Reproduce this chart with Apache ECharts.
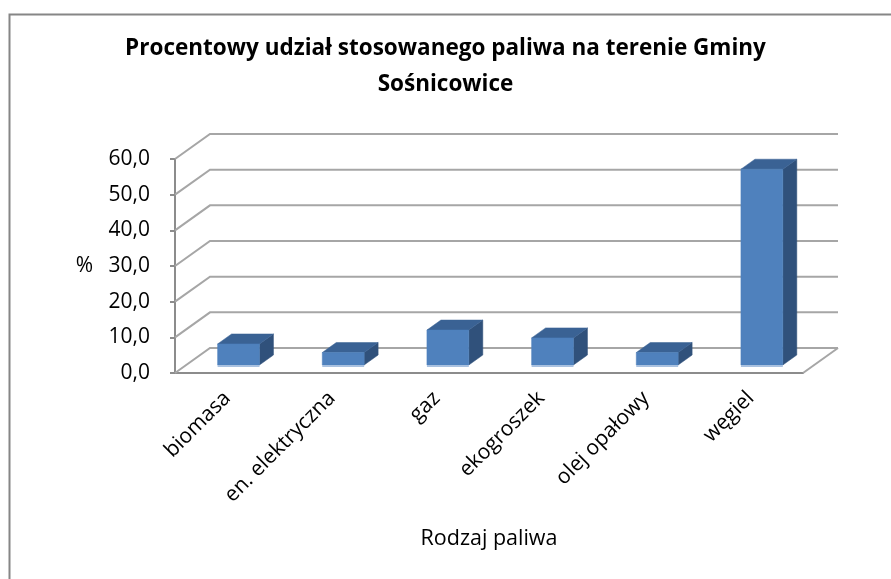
<!DOCTYPE html>
<html><head><meta charset="utf-8">
<script src="https://cdn.jsdelivr.net/npm/echarts@6/dist/echarts.min.js"></script>
<style>html,body{margin:0;padding:0;background:#fff}#c{width:891px;height:579px}</style>
</head><body><div id="c"></div>
<script>
const categories = ['biomasa', 'en. elektryczna', 'gaz', 'ekogroszek', 'olej opałowy', 'węgiel'];
const values = [5.9, 3.5, 9.8, 7.6, 3.5, 54.9];
const yTicks = [0, 10, 20, 30, 40, 50, 60];
const titleLines = ['Procentowy udział stosowanego paliwa na terenie Gminy', 'Sośnicowice'];

const DX = 35, DY = -25;       // depth offset of back wall
const F0 = 0.32, F1 = 0.72;    // bar depth span (fraction)
const BW = 0.40;               // bar width fraction of category
const FONT = 'Open Sans';

const chart = echarts.init(document.getElementById('c'), null, {renderer: 'canvas'});
chart.setOption({
  animation: false,
  backgroundColor: '#fff',
  title: {
    text: titleLines.join('\n'), left: 'center', top: 26,
    textStyle: {fontFamily: FONT, fontSize: 22.5, fontWeight: 'bold', color: '#000', lineHeight: 36}
  },
  graphic: [{
    type: 'rect', left: 7, top: 12, shape: {width: 900, height: 600},
    style: {fill: 'none', stroke: '#868686', lineWidth: 2}, silent: true, z: -1
  }],
  grid: {left: 175, right: 88, top: 159, bottom: 206},
  xAxis: {
    type: 'category', data: categories,
    axisLine: {show: true, lineStyle: {color: '#8c8c8c', width: 2}},
    axisTick: {show: false},
    axisLabel: {rotate: 45, margin: 22, fontFamily: FONT, fontSize: 21, color: '#000', interval: 0},
    name: 'Rodzaj paliwa', nameLocation: 'middle', nameGap: 155,
    nameTextStyle: {fontFamily: FONT, fontSize: 21.5, color: '#000'}
  },
  yAxis: {
    type: 'value', min: 0, max: 60, interval: 10,
    axisLine: {show: true, lineStyle: {color: '#8c8c8c', width: 2}},
    axisTick: {show: true, length: 5, lineStyle: {color: '#8c8c8c', width: 2}},
    splitLine: {show: false},
    axisLabel: {fontFamily: FONT, fontSize: 21, color: '#000', margin: 25,
      formatter: v => v.toFixed(1).replace('.', ',')},
    name: '%', nameLocation: 'middle', nameGap: 82, nameRotate: 0,
    nameTextStyle: {fontFamily: FONT, fontSize: 21, color: '#000'}
  },
  series: [
    {
      type: 'custom', silent: true, z: 1,
      data: yTicks.map(v => [0, v]),
      renderItem: function (params, api) {
        const cs = params.coordSys;
        const v = api.value(1);
        const y = api.coord([0, v])[1];
        const x0 = cs.x, x1 = cs.x + cs.width;
        const children = [{
          type: 'polyline',
          shape: {points: [[x0, y], [x0 + DX, y + DY], [x1 + DX, y + DY]]},
          style: {fill: 'none', stroke: '#a6a6a6', lineWidth: 2}
        }];
        if (v === 0) {
          children.push({
            type: 'line', shape: {x1: x1, y1: y, x2: x1 + DX, y2: y + DY},
            style: {stroke: '#a6a6a6', lineWidth: 2}
          });
        }
        return {type: 'group', children: children};
      }
    },
    {
      type: 'custom', silent: true, z: 3,
      data: values.map((v, i) => [i, v]),
      renderItem: function (params, api) {
        const i = api.value(0), v = api.value(1);
        const top = api.coord([i, v]);
        const base = api.coord([i, 0]);
        const w = api.size([1, 0])[0] * BW;
        const ox = F0 * DX, oy = F0 * DY;
        const dx = (F1 - F0) * DX, dy = (F1 - F0) * DY;
        const xl = top[0] - w / 2 + ox, xr = top[0] + w / 2 + ox;
        const yt = top[1] + oy, yb = base[1] + oy;
        return {
          type: 'group',
          children: [
            {type: 'polygon', shape: {points: [[xr, yt], [xr + dx, yt + dy], [xr + dx, yb + dy], [xr, yb]]},
             style: {fill: '#30517b', stroke: '#30517b', lineWidth: 0.5}},
            {type: 'polygon', shape: {points: [[xl, yt], [xr, yt], [xr + dx, yt + dy], [xl + dx, yt + dy]]},
             style: {fill: '#3a6294', stroke: '#3a6294', lineWidth: 0.5}},
            {type: 'rect', shape: {x: xl, y: yt, width: xr - xl, height: yb - yt},
             style: {fill: '#4f81bd', stroke: '#4f81bd', lineWidth: 0.5}},
            {type: 'line', shape: {x1: xl, y1: yb + 1, x2: xr, y2: yb + 1},
             style: {stroke: '#a9c1e0', lineWidth: 2}}
          ]
        };
      }
    }
  ]
});
</script></body></html>
